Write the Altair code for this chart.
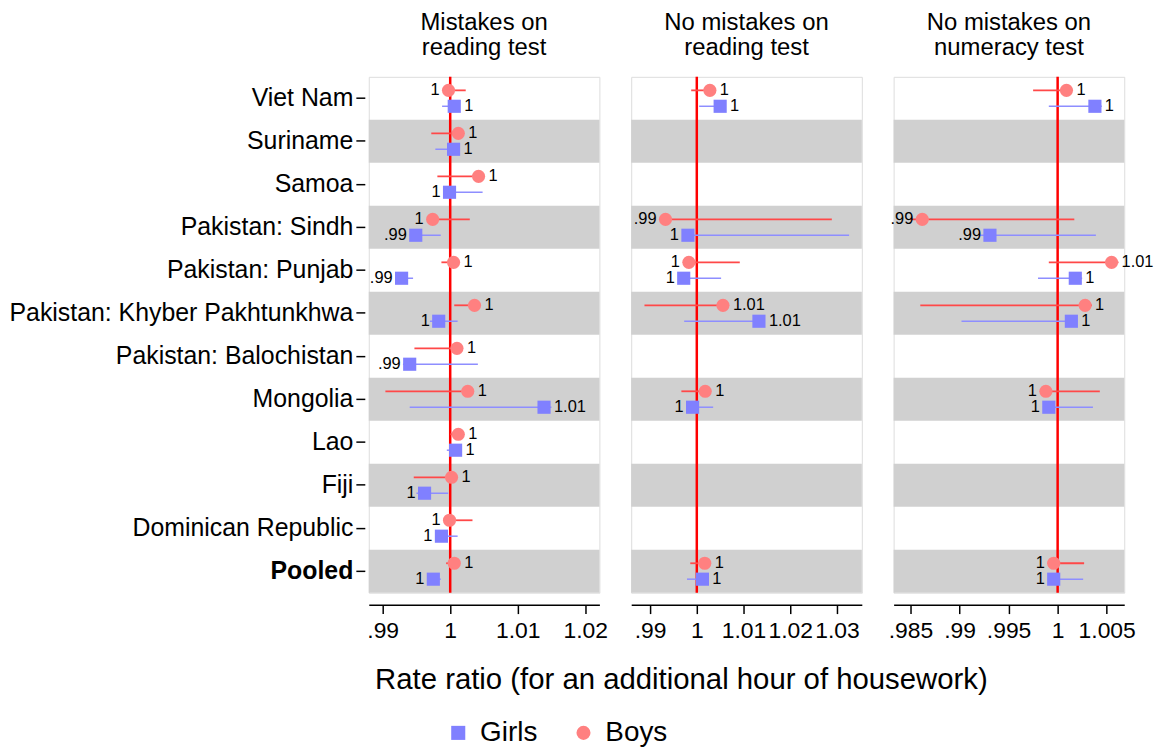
import altair as alt
import pandas as pd

# Countries, top to bottom
countries = [
    "Viet Nam", "Suriname", "Samoa", "Pakistan: Sindh", "Pakistan: Punjab",
    "Pakistan: Khyber Pakhtunkhwa", "Pakistan: Balochistan", "Mongolia", "Lao",
    "Fiji", "Dominican Republic", "Pooled",
]

panel_titles = [
    ["Mistakes on", "reading test"],
    ["No mistakes on", "reading test"],
    ["No mistakes on", "numeracy test"],
]

# Rate ratios with 95% CIs (None = outcome not available)
# Panel 1: mistakes on reading test
p1_boys_est = [0.99975, 1.0012, 1.0042, 0.9974, 1.0005, 1.0036, 1.0010, 1.0026, 1.0012, 1.0002, 0.9999, 1.0006]
p1_boys_lo  = [0.9990, 0.9972, 0.9981, 0.9967, 0.9987, 1.0006, 0.9947, 0.9904, 1.0000, 0.9946, 0.9993, 0.9994]
p1_boys_hi  = [1.0023, 1.0020, 1.0050, 1.0029, 1.0013, 1.0045, 1.0018, 1.0034, 1.0020, 1.0008, 1.0033, 1.0014]
p1_girls_est = [1.0006, 1.0005, 0.9999, 0.9949, 0.9928, 0.9983, 0.9940, 1.0139, 1.0008, 0.9962, 0.9987, 0.9975]
p1_girls_lo  = [0.9988, 0.9978, 0.9993, 0.9940, 0.9920, 0.9970, 0.9930, 0.9940, 0.9995, 0.9950, 0.9980, 0.9966]
p1_girls_hi  = [1.0012, 1.0012, 1.0048, 0.9986, 0.9945, 1.0011, 1.0041, 1.0150, 1.0016, 0.9997, 1.0011, 0.9986]

# Panel 2: no mistakes on reading test
p2_boys_est = [1.0028, None, None, 0.9933, 0.9983, 1.0056, None, 1.0018, None, None, None, 1.0017]
p2_boys_lo  = [0.9988, None, None, 0.9925, 0.9975, 0.9888, None, 0.9967, None, None, None, 0.9986]
p2_boys_hi  = [1.0040, None, None, 1.0289, 1.0092, 1.0065, None, 1.0025, None, None, None, 1.0025]
p2_girls_est = [1.0050, None, None, 0.9981, 0.9972, 1.0133, None, 0.9991, None, None, None, 1.0012]
p2_girls_lo  = [1.0005, None, None, 0.9975, 0.9965, 0.9973, None, 0.9985, None, None, None, 0.9979]
p2_girls_hi  = [1.0060, None, None, 1.0326, 1.0052, 1.0140, None, 1.0035, None, None, None, 1.0020]

# Panel 3: no mistakes on numeracy test
p3_boys_est = [1.0009, None, None, 0.9862, 1.0055, 1.0028, None, 0.9988, None, None, None, 0.9996]
p3_boys_lo  = [0.9975, None, None, 0.9850, 0.9991, 0.9860, None, 0.9982, None, None, None, 0.9990]
p3_boys_hi  = [1.0015, None, None, 1.0017, 1.0062, 1.0035, None, 1.0043, None, None, None, 1.0027]
p3_girls_est = [1.0038, None, None, 0.9931, 1.0018, 1.0014, None, 0.9991, None, None, None, 0.9996]
p3_girls_lo  = [0.9991, None, None, 0.9920, 0.9980, 0.9902, None, 0.9985, None, None, None, 0.9990]
p3_girls_hi  = [1.0045, None, None, 1.0039, 1.0025, 1.0020, None, 1.0036, None, None, None, 1.0026]

x_domains = [[0.98794, 1.0221], [0.98596, 1.03532], [0.98328, 1.00679]]
x_ticks = [[0.99, 1, 1.01, 1.02], [0.99, 1, 1.01, 1.02, 1.03], [0.985, 0.99, 0.995, 1, 1.005]]

panels = [
    (p1_boys_est, p1_boys_lo, p1_boys_hi, p1_girls_est, p1_girls_lo, p1_girls_hi),
    (p2_boys_est, p2_boys_lo, p2_boys_hi, p2_girls_est, p2_girls_lo, p2_girls_hi),
    (p3_boys_est, p3_boys_lo, p3_boys_hi, p3_girls_est, p3_girls_lo, p3_girls_hi),
]


def rr_label(v):
    s = f"{v:.2f}".rstrip("0").rstrip(".")
    return s[1:] if s.startswith("0.") else s


def panel_frame(series):
    be, bl, bh, ge, gl, gh = series
    rows = []
    for sex, est, lo, hi in (("Boys", be, bl, bh), ("Girls", ge, gl, gh)):
        for c, e, l, h in zip(countries, est, lo, hi):
            if e is None:
                continue
            rows.append({"country": c, "sex": sex, "est": e, "lo": l, "hi": h,
                         "label": rr_label(e), "side": "left" if e < 1 else "right"})
    return pd.DataFrame(rows)


FONT = "Liberation Sans"
tick_label_expr = ("datum.value < 1 ? replace(format(datum.value, '~g'), '0.', '.') "
                   ": format(datum.value, '~g')")

y_scale = alt.Scale(domain=countries, paddingInner=0, paddingOuter=0)
off_scale = alt.Scale(domain=["Boys", "Girls"], paddingOuter=0.35)
bands = pd.DataFrame({"country": countries[1::2]})


def make_panel(i):
    df = panel_frame(panels[i])
    xs = alt.Scale(domain=x_domains[i], nice=False, zero=False)
    x_axis = alt.Axis(
        values=x_ticks[i], labelExpr=tick_label_expr, grid=False, offset=12,
        tickSize=9, tickWidth=1.5, tickColor="black", domainColor="black",
        domainWidth=1.5, labelFontSize=23, labelColor="black", labelPadding=6,
        labelFlush=False, labelFont=FONT,
        title="Rate ratio (for an additional hour of housework)" if i == 1 else None,
        titleFontSize=29.5, titleFontWeight="normal", titleColor="black",
        titleFont=FONT, titlePadding=23, titleX=50,
    )
    if i == 0:
        y_axis = alt.Axis(
            title=None, domain=False, tickSize=9, tickWidth=1.5, tickColor="black",
            offset=4, labelPadding=3, labelFontSize=25, labelColor="black",
            labelLimit=0, labelFont=FONT,
            labelFontWeight=alt.condition("datum.value == 'Pooled'",
                                          alt.value("bold"), alt.value("normal")),
        )
    else:
        y_axis = None

    y_enc = alt.Y("country:N", scale=y_scale, axis=y_axis, sort=countries)
    yo_enc = alt.YOffset("sex:N", scale=off_scale)

    band_layer = alt.Chart(bands).mark_rect(color="#d0d0d0").encode(
        y=alt.Y("country:N", scale=y_scale, axis=y_axis, sort=countries))

    ref_line = alt.Chart(pd.DataFrame({"est": [1.0]})).mark_rule(
        color="#ff0000", strokeWidth=2.5).encode(
        x=alt.X("est:Q", scale=xs, axis=x_axis))

    base = alt.Chart(df)
    ci_boys = base.transform_filter("datum.sex == 'Boys'").mark_rule(
        color="#ff4848", strokeWidth=1.8).encode(
        x=alt.X("lo:Q", scale=xs, axis=x_axis), x2="hi:Q", y=y_enc, yOffset=yo_enc)
    ci_girls = base.transform_filter("datum.sex == 'Girls'").mark_rule(
        color="#8e8eff", strokeWidth=1.5).encode(
        x=alt.X("lo:Q", scale=xs, axis=x_axis), x2="hi:Q", y=y_enc, yOffset=yo_enc)

    points = base.mark_point(filled=True, opacity=1, size=175).encode(
        x=alt.X("est:Q", scale=xs, axis=x_axis), y=y_enc, yOffset=yo_enc,
        color=alt.Color("sex:N", scale=alt.Scale(domain=["Girls", "Boys"],
                                                 range=["#8080ff", "#ff8080"]),
                        legend=alt.Legend(title=None, orient="none", direction="horizontal",
                                          legendX=76, legendY=646, labelFontSize=28,
                                          labelFont=FONT, labelColor="black",
                                          symbolSize=200, labelOffset=8,
                                          columnPadding=32, padding=0,
                                          symbolOpacity=1)),
        shape=alt.Shape("sex:N", scale=alt.Scale(domain=["Girls", "Boys"],
                                                 range=["square", "circle"]),
                        legend=None),
    )

    lab_right = base.transform_filter("datum.side == 'right'").mark_text(
        align="left", baseline="middle", dx=10, fontSize=16.5, font=FONT, color="black").encode(
        x=alt.X("est:Q", scale=xs, axis=x_axis), y=y_enc, yOffset=yo_enc, text="label:N")
    lab_left = base.transform_filter("datum.side == 'left'").mark_text(
        align="right", baseline="middle", dx=-9, fontSize=16.5, font=FONT, color="black").encode(
        x=alt.X("est:Q", scale=xs, axis=x_axis), y=y_enc, yOffset=yo_enc, text="label:N")

    return alt.layer(band_layer, ref_line, ci_boys, ci_girls, points, lab_left, lab_right).properties(
        width=232, height=519,
        title=alt.TitleParams(panel_titles[i], fontSize=24, fontWeight="normal", font=FONT,
                              color="black", anchor="middle", offset=16, lineHeight=25),
    )


chart = alt.hconcat(*[make_panel(i) for i in range(3)], spacing=32, bounds="flush").properties(
    padding={"left": 8, "top": 8, "right": 10, "bottom": 10},
).configure_view(stroke=None).configure(font=FONT)

chart.save("out.html", embed_options={"renderer": "svg", "actions": False})
